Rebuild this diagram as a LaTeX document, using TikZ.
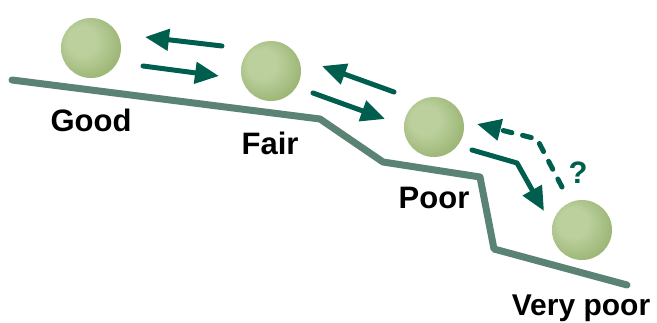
\documentclass[tikz,border=0pt]{standalone}
\usepackage{fontspec}
\setmainfont{Liberation Sans}
\usetikzlibrary{arrows.meta}
\definecolor{ground}{HTML}{5B8373}
\definecolor{arr}{HTML}{005E4E}
\definecolor{ballA}{HTML}{BCD09E}
\definecolor{ballB}{HTML}{8DAA62}
\pgfdeclareradialshading{ballshade}{\pgfpoint{-10bp}{8bp}}{color(0bp)=(ballA); color(12bp)=(ballA); color(30bp)=(ballB!70!ballA); color(50bp)=(ballB)}
\begin{document}
\begin{tikzpicture}[x=1pt,y=-1pt,
  ball/.style={circle,minimum size=60pt,inner sep=0pt,shading=ballshade},
  lbl/.style={font=\bfseries\fontsize{31}{31}\selectfont,anchor=base,inner sep=0pt},
  flow/.style={draw=arr,line width=5pt,line cap=round,line join=round,-{Triangle[length=24pt,width=21pt]}},
  groundline/.style={draw=ground,line width=7pt,line cap=round,line join=round}]
\useasboundingbox (0,0) rectangle (657,323);
% ground
\draw[groundline] (12,80) -- (320,119) -- (383,162) -- (480,177) -- (494,249) -- (627,285);
% balls
\node[ball] (good) at (91,48) {};
\node[ball] (fair) at (271,71) {};
\node[ball] (poor) at (434,127) {};
\node[ball] (vpoor) at (582,230) {};
% labels
\node[lbl] (lgood) at (91,132) {Good};
\node[lbl] (lfair) at (270,155) {Fair};
\node[lbl] (lpoor) at (434,209) {Poor};
\node[lbl,font=\bfseries\fontsize{30}{30}\selectfont] (lvpoor) at (581,316) {Very poor};
% arrow endpoints
\coordinate (a1s) at (222,46); \coordinate (a1e) at (145,37);
\coordinate (a2s) at (143,66); \coordinate (a2e) at (219,76);
\coordinate (a3s) at (394,92); \coordinate (a3e) at (322,66);
\coordinate (a4s) at (313,93); \coordinate (a4e) at (385,119);
\coordinate (a5s) at (472,150); \coordinate (a5b) at (517,163); \coordinate (a5e) at (544,211);
\coordinate (a6s) at (562,187); \coordinate (a6b) at (537,139); \coordinate (a6e) at (477,124);
\draw[flow] (a1s) -- (a1e);
\draw[flow] (a2s) -- (a2e);
\draw[flow] (a3s) -- (a3e);
\draw[flow] (a4s) -- (a4e);
\draw[flow] (a5s) -- (a5b) -- (a5e);
\draw[flow,dash pattern=on 9pt off 11pt] (a6s) -- (a6b) -- (a6e);
\node[font=\bfseries\fontsize{31}{31}\selectfont,text=arr,inner sep=0pt] (q) at (578,173) {?};
\end{tikzpicture}
\end{document}
